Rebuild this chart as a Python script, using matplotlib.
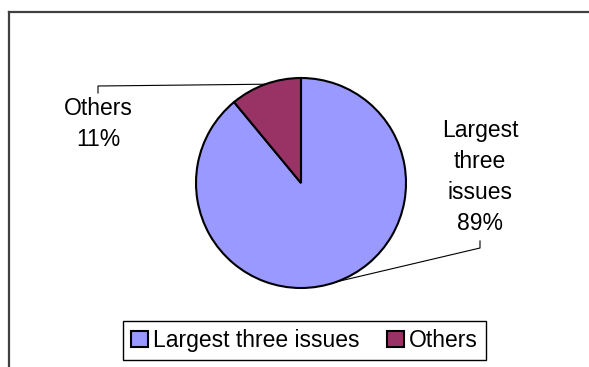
import numpy as np
import matplotlib.pyplot as plt
from matplotlib.lines import Line2D

plt.rcParams['font.family'] = ['Liberation Sans', 'DejaVu Sans']

labels = ["Largest three issues", "Others"]
shares = [89, 11]
colors = ["#9999FF", "#993366"]
label_text = ["Largest\nthree\nissues\n89%", "Others\n11%"]

W, H, DPI = 589, 367, 100
FS = 16.5
fig = plt.figure(figsize=(W / DPI, H / DPI), dpi=DPI)
ax = fig.add_axes([0, 0, 1, 1])

wedges, _ = ax.pie(shares, colors=colors, startangle=90, counterclock=False,
                   radius=1, wedgeprops=dict(edgecolor='black', linewidth=1.5))

# pie centre at pixel (301, 183), radius 105 px -> 1 data unit = 105 px
cx, cy, r = 301, 183, 105
ax.set_xlim(-cx / r, (W - cx) / r)
ax.set_ylim(-(H - cy) / r, cy / r)
ax.set_aspect('equal')
ax.axis('off')

# data labels with leader lines (Excel style)
text_pos = [(480, 248), (98, 86)]   # pixel anchor of leader elbow
for w, txt, (px, py), side in zip(wedges, label_text, text_pos, ["below", "above"]):
    ang = np.deg2rad((w.theta1 + w.theta2) / 2)
    x0, y0 = np.cos(ang), np.sin(ang)
    ex, ey = (px - cx) / r, (cy - py) / r
    if side == "below":
        ax.plot([x0, ex, ex], [y0, ey, ey + 7 / r], color='black', lw=0.8)
        ax.text(ex, ey + 13 / r, txt, ha='center', va='bottom', fontsize=FS,
                linespacing=1.45)
    else:
        ax.plot([x0, ex, ex], [y0, ey, ey - 7 / r], color='black', lw=0.8)
        ax.text(ex, ey - 11 / r, txt, ha='center', va='top', fontsize=FS,
                linespacing=1.45)

leg = fig.legend(wedges, labels, loc='center', bbox_to_anchor=(0.517, 0.072),
                 ncol=2, fontsize=FS, frameon=True, fancybox=False,
                 edgecolor='black', framealpha=1, borderpad=0.35,
                 handlelength=0.75, handleheight=0.75, handletextpad=0.2,
                 columnspacing=1.2, borderaxespad=0)
leg.get_frame().set_linewidth(1.0)
for h in leg.legend_handles:
    h.set_edgecolor('black')
    h.set_linewidth(1.5)

# chart area border (only top and left edges visible)
fig.add_artist(Line2D([9 / W, 9 / W], [0, 1 - 12 / H], color='#404040', lw=1.6,
                      transform=fig.transFigure))
fig.add_artist(Line2D([9 / W, 1], [1 - 12 / H, 1 - 12 / H], color='#404040', lw=1.6,
                      transform=fig.transFigure))

fig.savefig("out.png", dpi=DPI)
